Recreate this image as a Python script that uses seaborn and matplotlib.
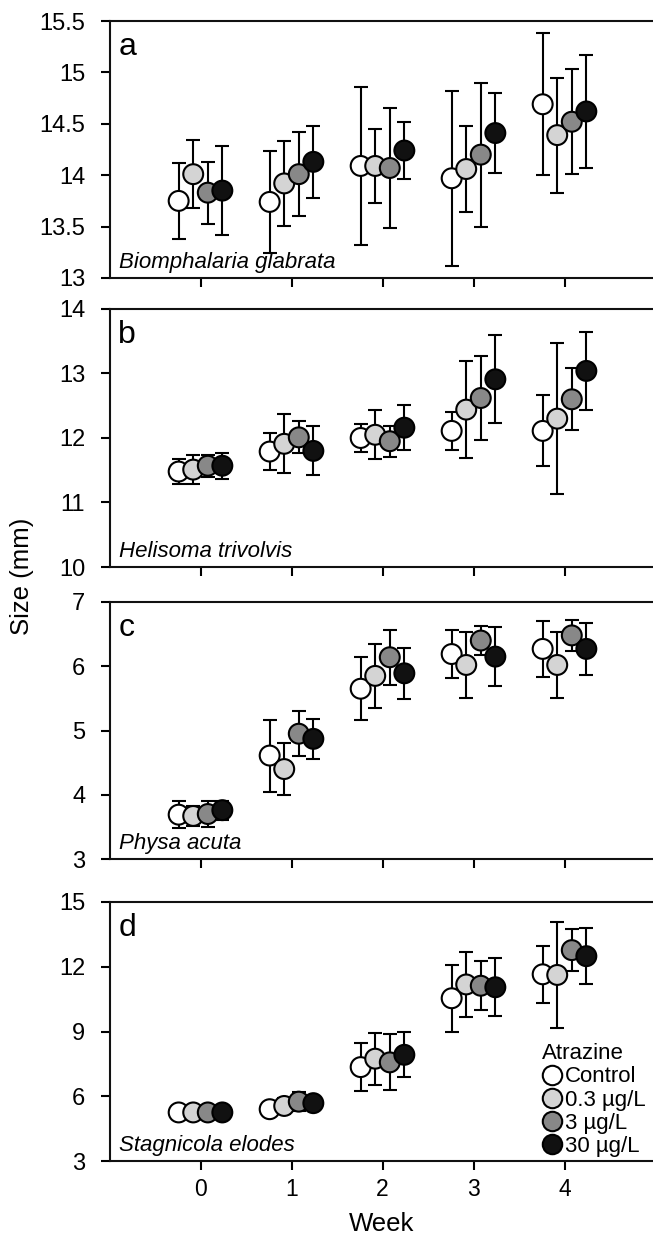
import numpy as np
import pandas as pd
import seaborn as sns
import matplotlib
matplotlib.use('Agg')
import matplotlib.pyplot as plt
from matplotlib.lines import Line2D

# 数据：每个面板 4 个处理 x 5 周，均值和误差（半宽）
weeks = [0, 1, 2, 3, 4]
treatments = ['Control', '0.3 µg/L', '3 µg/L', '30 µg/L']
colors = ['#ffffff', '#d4d4d4', '#888888', '#111111']
offsets = [-0.24, -0.08, 0.08, 0.24]

species = ['Biomphalaria glabrata', 'Helisoma trivolvis', 'Physa acuta', 'Stagnicola elodes']
letters = ['a', 'b', 'c', 'd']

# Biomphalaria glabrata
mean_a = [[13.75, 13.74, 14.09, 13.97, 14.69],
          [14.01, 13.92, 14.09, 14.06, 14.39],
          [13.83, 14.01, 14.07, 14.20, 14.52],
          [13.85, 14.13, 14.24, 14.41, 14.62]]
err_a = [[0.37, 0.50, 0.77, 0.85, 0.69],
         [0.33, 0.41, 0.36, 0.42, 0.56],
         [0.30, 0.41, 0.58, 0.70, 0.51],
         [0.43, 0.35, 0.28, 0.39, 0.55]]

# Helisoma trivolvis
mean_b = [[11.48, 11.79, 12.00, 12.11, 12.11],
          [11.51, 11.91, 12.05, 12.44, 12.30],
          [11.57, 12.01, 11.95, 12.62, 12.60],
          [11.57, 11.80, 12.16, 12.91, 13.04]]
err_b = [[0.20, 0.29, 0.22, 0.29, 0.55],
         [0.22, 0.46, 0.38, 0.75, 1.17],
         [0.17, 0.25, 0.24, 0.65, 0.48],
         [0.20, 0.38, 0.35, 0.68, 0.61]]

# Physa acuta
mean_c = [[3.69, 4.61, 5.65, 6.19, 6.27],
          [3.67, 4.40, 5.85, 6.02, 6.02],
          [3.70, 4.95, 6.14, 6.40, 6.48],
          [3.76, 4.87, 5.89, 6.15, 6.27]]
err_c = [[0.21, 0.56, 0.49, 0.38, 0.43],
         [0.16, 0.40, 0.50, 0.52, 0.52],
         [0.20, 0.35, 0.43, 0.23, 0.24],
         [0.15, 0.31, 0.40, 0.46, 0.40]]

# Stagnicola elodes
mean_d = [[5.25, 5.40, 7.35, 10.54, 11.65],
          [5.25, 5.55, 7.74, 11.18, 11.62],
          [5.25, 5.75, 7.57, 11.12, 12.77],
          [5.25, 5.68, 7.92, 11.05, 12.49]]
err_d = [[0.10, 0.10, 1.12, 1.54, 1.33],
         [0.10, 0.35, 1.20, 1.52, 2.47],
         [0.10, 0.45, 1.30, 1.13, 0.97],
         [0.10, 0.20, 1.05, 1.35, 1.29]]

means = [mean_a, mean_b, mean_c, mean_d]
errs = [err_a, err_b, err_c, err_d]
ylims = [(13, 15.5), (10, 14), (3, 7), (3, 15)]
yticks = [[13, 13.5, 14, 14.5, 15, 15.5], [10, 11, 12, 13, 14], [3, 4, 5, 6, 7], [3, 6, 9, 12, 15]]

sns.set_style('ticks')
plt.rcParams['font.family'] = ['Liberation Sans', 'DejaVu Sans']
plt.rcParams['text.color'] = 'black'
plt.rcParams['xtick.color'] = 'black'
plt.rcParams['ytick.color'] = 'black'

W, H = 653, 1239
fig = plt.figure(figsize=(W / 100, H / 100), dpi=100)

# 面板位置（像素：上边, 下边）
panel_px = [(21, 278), (309, 567), (602, 859), (902, 1161)]
left_px, width_px = 109.5, 546

palette = dict(zip(treatments, colors))

for k in range(4):
    top, bot = panel_px[k]
    ax = fig.add_axes([left_px / W, (H - bot) / H, width_px / W, (bot - top) / H])
    rows = []
    for t in range(4):
        for w in range(5):
            rows.append({'x': weeks[w] + offsets[t], 'y': means[k][t][w],
                         'err': errs[k][t][w], 'trt': treatments[t]})
    df = pd.DataFrame(rows)
    # 误差线先画，再画点
    ax.errorbar(df['x'], df['y'], yerr=df['err'], fmt='none', ecolor='black',
                elinewidth=1.5, capsize=4.7, capthick=1.5, zorder=2)
    sns.scatterplot(data=df, x='x', y='y', hue='trt', hue_order=treatments,
                    palette=palette, s=205, edgecolor='black', linewidth=1.5,
                    legend=False, ax=ax, zorder=3)
    ax.set_xlim(-1, 5)
    ax.set_ylim(*ylims[k])
    ax.set_xticks(weeks)
    ax.set_yticks(yticks[k])
    ax.set_yticklabels(['%g' % v for v in yticks[k]])
    ax.set_xlabel('')
    ax.set_ylabel('')
    ax.spines['right'].set_visible(False)
    for s in ['left', 'top', 'bottom']:
        ax.spines[s].set_linewidth(1.5)
        ax.spines[s].set_color('#111111')
    ax.tick_params(axis='y', direction='out', length=6.5, width=1.5, labelsize=17, pad=11)
    ax.tick_params(axis='x', direction='out', length=6.5, width=1.5, labelsize=16.5, pad=6)
    if k < 3:
        ax.set_xticklabels([])
    ax.text(0.016, 1 - 34 / (bot - top), letters[k], transform=ax.transAxes,
            fontsize=23, va='baseline', ha='left')
    ax.text(0.017, 10 / (bot - top), species[k], transform=ax.transAxes,
            fontsize=16, style='italic', va='baseline', ha='left')
    if k == 3:
        handles = [Line2D([], [], marker='o', linestyle='none', markersize=14,
                          markerfacecolor=c, markeredgecolor='black', markeredgewidth=1.5)
                   for c in colors]
        leg = fig.legend(handles, treatments, title='Atrazine', frameon=False,
                         loc='lower left', bbox_to_anchor=(542 / W, (H - 1157) / H),
                         fontsize=16, title_fontsize=16, handlelength=0.9,
                         handletextpad=0.15, labelspacing=0.1, borderpad=0,
                         borderaxespad=0)
        leg._legend_box.align = 'left'

fig.text(22 / W, 1 - 576 / H, 'Size (mm)', rotation=90, ha='center', va='center', fontsize=18.5)
fig.text(382 / W, 1 - 1224 / H, 'Week', ha='center', va='center', fontsize=18.5)

fig.savefig('out.png', dpi=100, facecolor='white')
